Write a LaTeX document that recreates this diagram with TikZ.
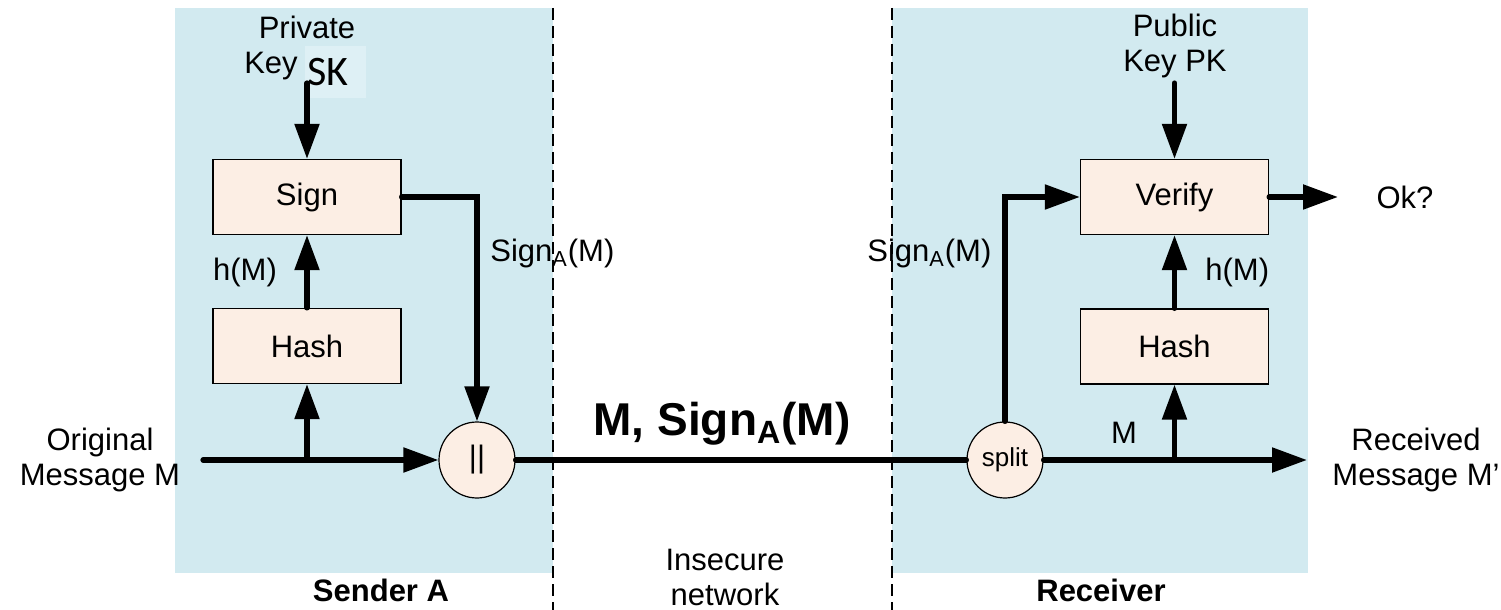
\documentclass[tikz,border=0pt]{standalone}
\usepackage{fontspec}
\setmainfont{Liberation Sans}
\newfontfamily\keyfont{Carlito}
\usetikzlibrary{positioning,shapes,arrows.meta}

\definecolor{panelblue}{RGB}{210,234,240}
\definecolor{boxpeach}{RGB}{252,238,228}
\definecolor{skblue}{RGB}{222,240,245}

\tikzset{
  block/.style={draw, fill=boxpeach, line width=0.6pt, minimum width=94pt, minimum height=37.5pt, inner sep=0pt},
  joint/.style={draw, fill=boxpeach, line width=0.6pt, circle, minimum size=38pt, inner sep=0pt},
  wire/.style={line width=2.6pt, line cap=round},
  flow/.style={wire, -{Triangle[length=17.5pt,width=12pt]}},
  border/.style={dash pattern=on 6pt off 3pt, line width=0.8pt},
  lbl/.style={align=center, inner sep=0pt}
}

\begin{document}
\begin{tikzpicture}[x=0.5pt, y=-0.5pt, font=\fontsize{15.5}{17.5}\selectfont]
			\useasboundingbox (0,0) rectangle (1501,610);
			% sender and receiver areas
			\fill[panelblue] (175,8) rectangle (553,573);
			\fill[panelblue] (892,8) rectangle (1308,573);
			\draw[border] (553,8) -- (553,610);
			\draw[border] (892,8) -- (892,610);

			% sender side
			\node[block] (signA) at (307,197) {Sign};
			\node[block] (hashA) at (307,346) {Hash};
			\node[joint] (cat) at (477,460) {||};
			\node[lbl] (privLbl) at (307,27) {Private};
			\node[lbl] (keyLblA) at (271,66) {Key};
			\node[fill=skblue, anchor=west, text width=28.5pt, minimum height=26pt, inner xsep=1pt, inner ysep=0pt, font=\keyfont\fontsize{21}{21}\selectfont] (skBox) at (305,72) {SK};
			\node[lbl] (hLblA) at (245,272) {h(M)};
			\node[lbl, anchor=west] (sigLblA) at (490,253) {Sign\textsubscript{A}(M)};
			\node[lbl] (origLbl) at (100,460) {Original\\Message M};
			\node[lbl, font=\bfseries\fontsize{15.5}{17.5}\selectfont] (sendLbl) at (381,590) {Sender A};

			% network
			\node[lbl, font=\bfseries\fontsize{23}{26}\selectfont] (msgLbl) at (722,424) {M, Sign\textsubscript{A}(M)};
			\node[lbl] (netLbl) at (725,577) {Insecure\\network};

			% receiver side
			\node[block] (verify) at (1174.5,197) {Verify};
			\node[block] (hashB) at (1174.5,346.5) {Hash};
			\node[joint, font=\fontsize{13}{15}\selectfont] (split) at (1005,460) {split};
			\node[lbl] (pubLbl) at (1175,46) {Public\\Key PK};
			\node[lbl, anchor=west] (sigLblB) at (867,253) {Sign\textsubscript{A}(M)};
			\node[lbl, anchor=west] (hLblB) at (1205,272) {h(M)};
			\node[lbl] (mLbl) at (1124,433) {M};
			\node[lbl] (okLbl) at (1405,197) {Ok?};
			\node[lbl] (recvLbl) at (1416,460) {Received\\Message M'};
			\node[lbl, font=\bfseries\fontsize{15.5}{17.5}\selectfont] (rcvLbl) at (1101,590) {Receiver};

			% connector end points
			\coordinate (msgIn) at (203,460);
			\coordinate (tapA) at (307,460);
			\coordinate (skTop) at (307,83);
			\coordinate (tapB) at (1174.5,460);
			\coordinate (pkTop) at (1174.5,83);
			\coordinate (msgOut) at (1307,460);
			\coordinate (okTip) at (1338,197);

			% sender flows
			\draw[flow] (msgIn) -- (cat);
			\draw[flow] (tapA) -- (hashA);
			\draw[flow] (hashA) -- (signA);
			\draw[flow] (skTop) -- (signA);
			\draw[flow] (signA.east) -| (cat.north);
			% over the network
			\draw[wire] (cat) -- (split);
			% receiver flows
			\draw[flow] (split) -- (msgOut);
			\draw[flow] (tapB) -- (hashB);
			\draw[flow] (hashB) -- (verify);
			\draw[flow] (pkTop) -- (verify);
			\draw[flow] (split.north) |- (verify.west);
			\draw[flow] (verify.east) -- (okTip);
		\end{tikzpicture}
\end{document}
